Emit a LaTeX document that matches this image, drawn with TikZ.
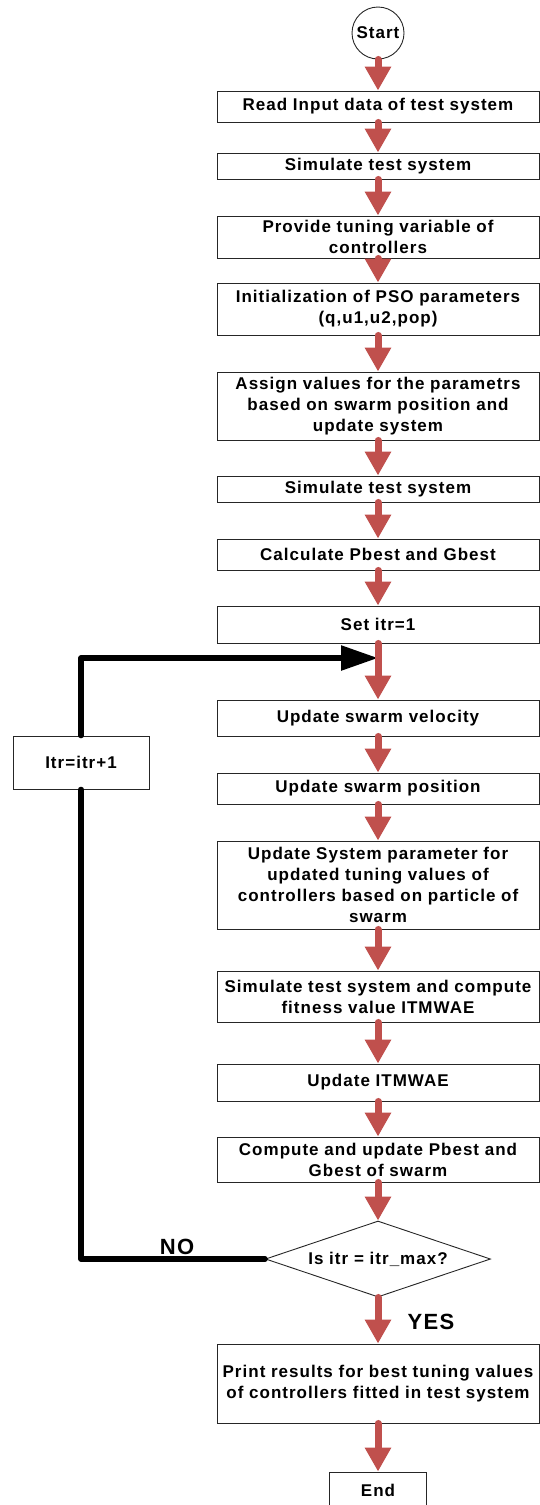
\documentclass[tikz,border=0pt]{standalone}
\usepackage{fontspec}
\setmainfont{Liberation Sans}[LetterSpace=6]
\usetikzlibrary{positioning,shapes.geometric,arrows.meta,calc}
\definecolor{flowred}{RGB}{192,80,77}
\tikzset{
  txt/.style={font=\bfseries\fontsize{17}{21}\selectfont},
  box/.style={txt,draw=black!85,line width=0.9pt,fill=white,minimum width=322,inner sep=0pt,text width=316,align=center},
  startnode/.style={txt,draw=black!85,line width=0.9pt,circle,minimum size=52,inner sep=0pt},
  decision/.style={txt,draw=black!85,line width=0.9pt,diamond,aspect=2.96,minimum width=225,minimum height=76,inner sep=0pt},
  flow/.style={flowred,line width=7pt,line cap=round,-{Triangle[length=24pt,width=25pt]}},
  loopline/.style={line width=5.5pt,line cap=round,line join=round},
  answer/.style={font=\bfseries\fontsize{22}{24}\selectfont},
}
\begin{document}
\begin{tikzpicture}[x=1pt,y=-1pt]
    \useasboundingbox (0,0) rectangle (539,1505);
    \node[startnode] (start) at (378,33) {Start};
    \node[box,minimum height=31] (read) at (378,106.5) {Read Input data of test system};
    \node[box,minimum height=26] (sim) at (378,166) {Simulate test system};
    \node[box,minimum height=42] (tune) at (378,237) {Provide tuning variable of\\ controllers};
    \node[box,minimum height=52] (init) at (378,309) {Initialization of PSO parameters\\ (q,u1,u2,pop)};
    \node[box,minimum height=68] (assign) at (378,406) {Assign values for the parametrs\\ based on swarm position and\\ update system};
    \node[box,minimum height=26] (simagain) at (378,489) {Simulate test system};
    \node[box,minimum height=31] (calc) at (378,554.5) {Calculate Pbest and Gbest};
    \node[box,minimum height=37] (set) at (378,624.5) {Set itr=1};
    \node[box,minimum height=36] (vel) at (378,718) {Update swarm velocity};
    \node[box,minimum height=31] (pos) at (378,788.5) {Update swarm position};
    \node[box,minimum height=88] (param) at (378,885) {Update System parameter for\\ updated tuning values of\\ controllers based on particle of\\ swarm};
    \node[box,minimum height=51] (fit) at (378,996.5) {Simulate test system and compute\\ fitness value ITMWAE};
    \node[box,minimum height=37] (itm) at (378,1082.5) {Update ITMWAE};
    \node[box,minimum height=45] (best) at (378,1159.5) {Compute and update Pbest and\\ Gbest of swarm};
    \node[decision] (check) at (378,1259) {Is itr = itr\_max?};
    \node[box,minimum height=79] (print) at (378,1383.5) {Print results for best tuning values\\ of controllers fitted in test system};
    \node[box,minimum width=97,text width=90,minimum height=36] (finish) at (378,1490) {End};
    \node[box,minimum width=136,text width=130,minimum height=53] (incr) at (81,762.5) {Itr=itr+1};
    \node[answer] (no) at (177,1247) {NO};
    \node[answer] (yes) at (431,1322) {YES};
    \coordinate (join) at (378,658);
    \draw[loopline] (check.west) -| (incr.south);
    \draw[loopline,-{Triangle[length=37pt,width=24pt]}] (incr.north) |- (join);
    \draw[flow] (start.south) -- (read.north);
    \draw[flow] (read.south) -- (sim.north);
    \draw[flow] (sim.south) -- (tune.north);
    \draw[flow] (tune.south) -- (init.north);
    \draw[flow] (init.south) -- (assign.north);
    \draw[flow] (assign.south) -- (simagain.north);
    \draw[flow] (simagain.south) -- (calc.north);
    \draw[flow] (calc.south) -- (set.north);
    \draw[flow] (set.south) -- (vel.north);
    \draw[flow] (vel.south) -- (pos.north);
    \draw[flow] (pos.south) -- (param.north);
    \draw[flow] (param.south) -- (fit.north);
    \draw[flow] (fit.south) -- (itm.north);
    \draw[flow] (itm.south) -- (best.north);
    \draw[flow] (best.south) -- (check.north);
    \draw[flow] (check.south) -- (print.north);
    \draw[flow] (print.south) -- (finish.north);
\end{tikzpicture}
\end{document}
